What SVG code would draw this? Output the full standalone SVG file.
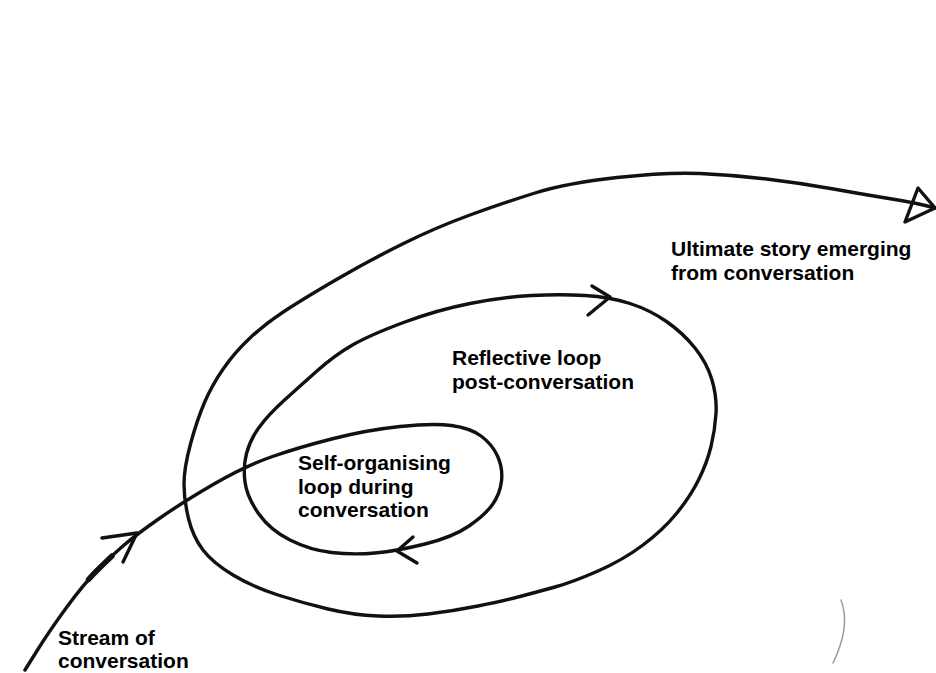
<svg xmlns="http://www.w3.org/2000/svg" width="936" height="673" viewBox="0 0 936 673">
<style>
.ink{fill:none;stroke:#111;stroke-width:3.4;stroke-linecap:round;stroke-linejoin:round}
.lbl{font-family:"Liberation Sans",Arial,sans-serif;font-weight:bold;font-size:21px;fill:#000}
.faint{fill:none;stroke:#9a9a9a;stroke-width:1.5;stroke-linecap:round}
</style>
<rect width="936" height="673" fill="#fff"/>
<g id="connectors">
<path class="ink" d="M 25 670 L 37.5 650 Q 50 630 66.5 607.5 Q 83 585 96.5 571 Q 110 557 123.5 545.5 Q 137 534 160 518 Q 183 502 214 484 Q 245 466 272.5 456.5 Q 300 447 333.5 438.5 Q 367 430 400 426.5 Q 433 423 451.5 425.5 Q 470 428 481 436 Q 492 444 497.5 456 Q 503 468 501.5 481 Q 500 494 492.5 504.5 Q 485 515 469 526 Q 453 537 425 544 Q 397 551 375 553 Q 353 555 331.5 552.5 Q 310 550 290 540 Q 270 530 258.5 513.5 Q 247 497 245 482 Q 243 467 246.5 453.5 Q 250 440 259 427.5 Q 268 415 284 400.5 Q 300 386 317.5 370.5 Q 335 355 352.5 345 Q 370 335 403.5 322.5 Q 437 310 470 303.5 Q 503 297 531.5 295.5 Q 560 294 585 295.5 Q 610 297 630 303.5 Q 650 310 666.5 321.5 Q 683 333 695 348 Q 707 363 712 380 Q 717 397 716 413.5 Q 715 430 711 446.5 Q 707 463 698.5 480 Q 690 497 676.5 513.5 Q 663 530 643 545 Q 623 560 598 571 Q 573 582 555 587 Q 537 592 520 596.5 Q 503 601 478 606 Q 453 611 428 614 Q 403 617 378 616 Q 353 615 328 609 Q 303 603 278 595 Q 253 587 233 575 Q 213 563 203 550 Q 193 537 188.5 518.5 Q 184 500 184 484 Q 184 468 190.5 444 Q 197 420 204.5 402.5 Q 212 385 223.5 368.5 Q 235 352 250 338 Q 265 324 284 311.5 Q 303 299 336.5 279.5 Q 370 260 403.5 243.5 Q 437 227 470 215 Q 503 203 535 193 Q 567 183 617 177.5 Q 667 172 700 173.5 Q 733 175 766.5 179 Q 800 183 833.5 189 Q 867 195 892 199 Q 917 203 935 208"/>
<path class="ink" style="stroke-width:5.5" d="M 88.5 579.5 Q 92.5 575 96.5 571 Q 104 563.5 112 556"/>
<path class="ink" d="M 102 538 L 137 533 L 123 562"/>
<path class="ink" d="M 592 286 L 610 297 L 588 315"/>
<path class="ink" d="M 413 537 L 397 551 L 417 563"/>
<path class="ink" d="M 918 188 L 905 222 L 935 208 Z"/>
<path class="faint" d="M 841 600 Q 851 626 833 663"/>
</g>
<g id="node-stream"><text class="lbl" x="58" y="645">Stream of</text><text class="lbl" x="58" y="668">conversation</text></g>
<g id="node-self"><text class="lbl" x="298" y="470">Self-organising</text><text class="lbl" x="298" y="494">loop during</text><text class="lbl" x="298" y="517">conversation</text></g>
<g id="node-reflective"><text class="lbl" x="452" y="365">Reflective loop</text><text class="lbl" x="452" y="389">post-conversation</text></g>
<g id="node-ultimate"><text class="lbl" x="671" y="256">Ultimate story emerging</text><text class="lbl" x="671" y="280">from conversation</text></g>
</svg>
